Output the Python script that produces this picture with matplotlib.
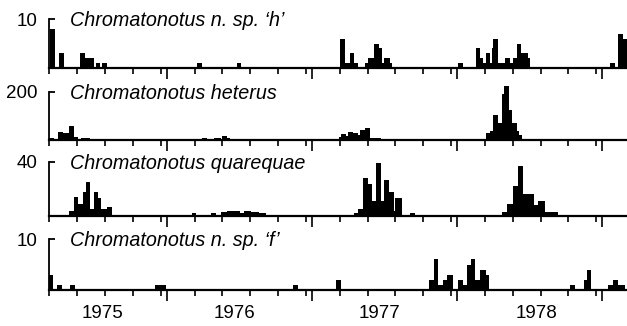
import matplotlib
matplotlib.use('Agg')
import matplotlib.pyplot as plt
import matplotlib.transforms as mtransforms
import numpy as np

plt.rcParams['font.family'] = ['Liberation Sans', 'DejaVu Sans']

# x unit: weeks since 1 January 1975
years = [1975, 1976, 1977, 1978]

# Chromatonotus n. sp. 'h'
h_start = [10.3, 13.6, 21.1, 22.8, 24.3, 26.7, 29.1, 63.2, 77.5, 114.6, 116.4, 117.9, 119.4,
           123.5, 124.5, 126.5, 128.3, 129.5, 130.4, 132.5, 156.9, 163.2, 164.8, 165.8, 166.8,
           168.4, 169.0, 169.6, 171.4, 172.6, 173.8, 175.5, 176.7, 177.9, 179.4, 182.1, 211.4,
           214.4, 216.2]
h_end = [12.0, 15.2, 22.8, 24.3, 25.9, 28.2, 30.9, 65.0, 78.9, 116.4, 117.9, 119.4, 121.1,
         124.5, 126.5, 128.3, 129.5, 130.4, 132.5, 133.1, 158.8, 164.8, 165.8, 166.8, 168.4,
         169.0, 169.6, 171.4, 172.6, 173.8, 175.5, 176.7, 177.9, 179.4, 182.1, 182.7, 213.2,
         216.2, 218.0]
h_count = [8, 3, 3, 2, 2, 1, 1, 1, 1, 6, 1, 3, 1, 1, 2, 5, 4, 1, 2, 1, 1, 4, 2, 1, 3, 1, 4,
           6, 1, 1, 2, 1, 2, 5, 3, 2, 1, 7, 6]

# Chromatonotus heterus
het_start = [10.0, 11.8, 13.2, 14.8, 16.6, 17.1, 18.7, 20.4, 21.3, 65.0, 66.8, 69.1, 72.2,
             74.0, 114.0, 114.9, 116.7, 117.3, 119.1, 119.7, 121.1, 121.8, 123.5, 125.3,
             166.8, 168.4, 169.6, 171.4, 172.6, 173.5, 175.3, 176.2, 177.9, 178.9]
het_end = [11.8, 13.2, 14.8, 16.6, 17.1, 18.7, 20.4, 21.3, 24.7, 66.8, 69.1, 71.6, 74.0,
           75.1, 114.9, 116.7, 117.3, 119.1, 119.7, 121.1, 121.8, 123.5, 125.3, 129.2,
           168.4, 169.6, 171.4, 172.6, 173.5, 175.3, 176.2, 177.9, 178.9, 180.0]
het_count = [7, 3, 35, 28, 28, 60, 14, 5, 8, 8, 5, 7, 18, 8, 14, 25, 17, 32, 28, 30, 20, 42,
             51, 10, 28, 36, 104, 70, 192, 226, 125, 72, 37, 20]

# Chromatonotus quarequae
q_start = [17.1, 18.7, 20.4, 22.0, 23.1, 24.7, 25.9, 27.5, 28.5, 30.7, 61.4, 68.2, 71.6,
           74.0, 76.9, 78.5, 79.9, 82.3, 85.3, 87.7, 119.4, 121.1, 122.9, 124.7, 126.0,
           127.5, 129.2, 130.1, 131.9, 133.7, 134.3, 139.7, 141.5, 172.6, 174.4, 176.5,
           178.5, 180.3, 184.2, 185.7, 188.1]
q_end = [18.7, 20.4, 22.0, 23.1, 24.7, 25.9, 27.5, 28.5, 30.7, 32.5, 62.6, 69.8, 74.0, 76.9,
         78.5, 79.9, 82.3, 85.3, 87.7, 89.5, 121.1, 122.9, 124.7, 126.0, 127.5, 129.2, 130.1,
         131.9, 133.7, 134.3, 136.7, 141.5, 143.9, 174.4, 176.5, 178.5, 180.3, 184.2, 185.7,
         188.1, 192.9]
q_count = [4, 14, 9, 18, 25, 5, 18, 13, 5, 7, 2, 2, 3, 4, 4, 2, 4, 3, 2, 1, 2, 5, 28, 24, 11,
           39, 11, 27, 18, 4, 13, 2, 1, 3, 9, 22, 37, 16, 8, 11, 3]

# Chromatonotus n. sp. 'f'
f_start = [9.8, 12.7, 17.5, 47.9, 49.8, 97.5, 113.1, 146.5, 148.3, 149.8, 151.4, 152.8,
           157.0, 158.8, 160.2, 161.5, 163.0, 164.8, 166.9, 197.1, 202.1, 203.1, 210.8,
           212.6, 214.4, 215.3]
f_end = [11.2, 14.4, 19.2, 49.8, 51.8, 99.3, 114.9, 148.3, 149.8, 151.4, 152.8, 155.0, 158.8,
         160.2, 161.5, 163.0, 164.8, 166.9, 168.0, 198.9, 203.1, 204.8, 212.6, 214.4, 215.3,
         216.8]
f_count = [3, 1, 1, 1, 1, 1, 2, 2, 6, 1, 2, 3, 2, 1, 5, 6, 2, 4, 3, 1, 2, 4, 1, 2, 1, 1]

species = ["Chromatonotus n. sp. \u2018h\u2019", "Chromatonotus heterus",
           "Chromatonotus quarequae", "Chromatonotus n. sp. \u2018f\u2019"]
y_max = [10, 200, 40, 10]
starts = [h_start, het_start, q_start, f_start]
ends = [h_end, het_end, q_end, f_end]
counts = [h_count, het_count, q_count, f_count]

# ---- layout ----
W, H = 627, 326
fig = plt.figure(figsize=(W / 100, H / 100), dpi=100)
left_px = 48.5
panel_px = [(19, 68), (92, 140), (162, 216), (239, 290)]  # (top, baseline) in pixels
x_lo, x_hi = 9.7, 217.6

wk_per_year = 365.25 / 7
year_starts = [(y - 1975) * wk_per_year for y in years + [1979]]
short_ticks = [ys + k * 10 for ys in year_starts for k in range(1, 6)]
short_ticks = [t for t in short_ticks if x_lo - 0.5 <= t <= x_hi]
long_ticks = [t for t in year_starts if x_lo <= t <= x_hi]
label_pos = [29.2, 76.6, 128.6, 184.9]

axes = []
for i in range(4):
    top, base = panel_px[i]
    ax = fig.add_axes([left_px / W, 1 - base / H, 1 - left_px / W, (base - top) / H])
    s = np.array(starts[i]); e = np.array(ends[i]); c = np.array(counts[i])
    ax.bar(s, c, width=e - s, align='edge', color='black', linewidth=0, clip_on=False)
    ax.set_xlim(x_lo, x_hi)
    ax.set_ylim(0, y_max[i])
    for sp in ('top', 'right'):
        ax.spines[sp].set_visible(False)
    ax.spines['left'].set_linewidth(1.3)
    ax.spines['bottom'].set_linewidth(1.6)
    ax.set_yticks([y_max[i]])
    ax.set_yticklabels([str(y_max[i])])
    ax.tick_params(axis='y', direction='in', length=4.5, width=1.3, labelsize=13.5, pad=8)
    ax.set_xticks(long_ticks)
    ax.set_xticks(short_ticks, minor=True)
    ax.tick_params(axis='x', which='major', direction='out', length=8, width=1.2,
                   labelbottom=False)
    ax.tick_params(axis='x', which='minor', direction='out', length=4.3, width=1.2)
    tr = mtransforms.offset_copy(ax.transAxes, fig=fig, x=21, y=-7, units='dots')
    ax.text(0, 1, species[i], transform=tr, fontsize=14.2, fontstyle='italic',
            ha='left', va='baseline')
    axes.append(ax)

ax = axes[-1]
trl = mtransforms.offset_copy(
    mtransforms.blended_transform_factory(ax.transData, ax.transAxes),
    fig=fig, y=-24, units='dots')
for p, y in zip(label_pos, years):
    ax.text(p, 0, str(y), transform=trl, fontsize=13.5, ha='center', va='center')

fig.savefig('out.png', dpi=100)
